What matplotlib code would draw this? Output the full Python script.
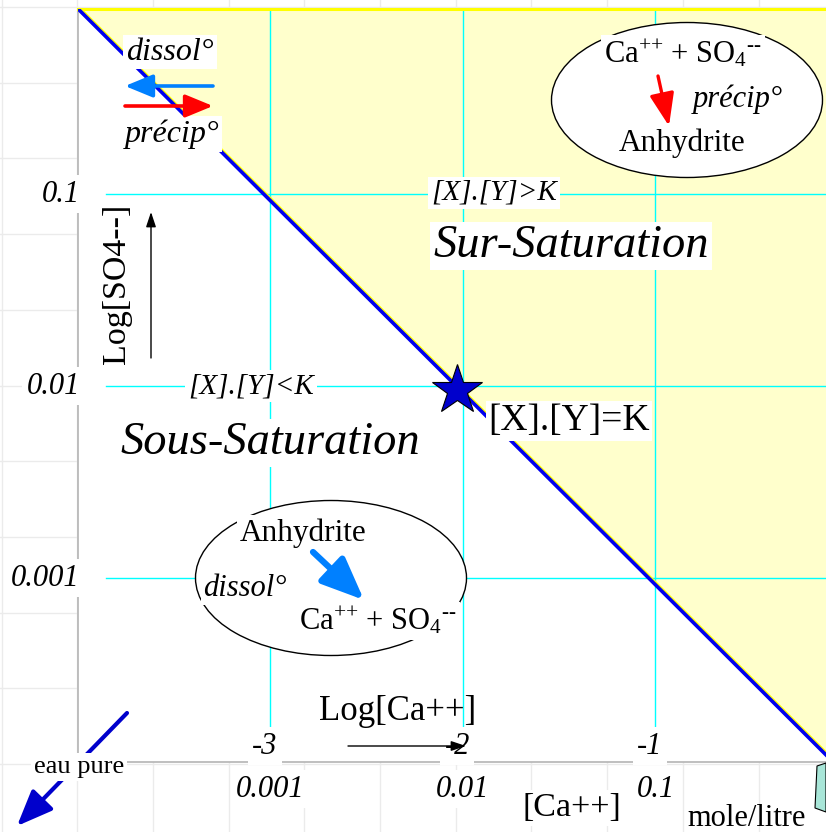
import numpy as np
import matplotlib
matplotlib.use("Agg")
import matplotlib.pyplot as plt
from matplotlib import transforms
from matplotlib.patches import Ellipse, Polygon

plt.rcParams['font.family'] = ['Liberation Serif', 'DejaVu Serif']
plt.rcParams['mathtext.fontset'] = 'custom'
plt.rcParams['mathtext.rm'] = 'Liberation Serif'
plt.rcParams['mathtext.it'] = 'Liberation Serif:italic'

# donnees
log_ticks = [-3, -2, -1]                 # log des concentrations
conc_labels = ['0.001', '0.01', '0.1']   # concentrations mole/litre
log_K = -4.035                           # log[Ca++] + log[SO4--] sur la droite
star_pt = (-2.03, -2.02)                 # point [X].[Y]=K
xlim = (-4.0, -0.114)
ylim = (-3.958, -0.036)

W, H = 826, 832
fig = plt.figure(figsize=(W / 100, H / 100), dpi=100)
# coordonnees en pixels depuis le coin haut gauche
px = transforms.Affine2D().scale(1 / W, -1 / H).translate(0, 1) + fig.transFigure

# quadrillage gris du fond
for k in range(12):
    fig.add_artist(plt.Line2D([1.5 + 75.7 * k] * 2, [0, H], transform=px,
                              color='#ebebeb', lw=1, zorder=0))
    fig.add_artist(plt.Line2D([0, W], [7 + 75.7 * k] * 2, transform=px,
                              color='#ebebeb', lw=1, zorder=0))

ax = fig.add_axes([78 / W, (H - 762) / H, (W - 78) / W, (762 - 9) / H])
ax.set_xlim(*xlim)
ax.set_ylim(*ylim)
ax.set_xticks([])
ax.set_yticks([])
ax.spines['right'].set_visible(False)
ax.spines['left'].set_color('#b4b4b4')
ax.spines['bottom'].set_color('#b4b4b4')
ax.spines['left'].set_linewidth(1.2)
ax.spines['bottom'].set_linewidth(1.2)
ax.spines['top'].set_color('#ffff00')
ax.spines['top'].set_linewidth(2.2)

# zone sur-saturee
xs = np.linspace(xlim[0], xlim[1], 200)
ax.fill_between(xs, log_K - xs, ylim[1], color='#ffffcc', zorder=1, lw=0)

# grille cyan
for t in log_ticks:
    ax.plot([t, t], ylim, color='#00ffff', lw=1, zorder=2)
    ax.plot([-3.855, xlim[1]], [t, t], color='#00ffff', lw=1, zorder=2)

# droite du produit de solubilite
ax.plot(xs + 0.006, log_K - xs + 0.006, color='#ffff00', lw=2, zorder=3)
ax.plot(xs, log_K - xs, color='#0000ee', lw=2.6, zorder=3)
ax.plot(*star_pt, marker='*', ms=38, color='#0000cc', mec='black', mew=0.8, zorder=5)

white = dict(facecolor='white', edgecolor='none', pad=2)

def txt(x, y, s, size, style='normal', box=True, **kw):
    ax.text(x, y, s, transform=px, fontsize=size, style=style, ha=kw.pop('ha', 'center'),
            va=kw.pop('va', 'center'), bbox=white if box else None, zorder=7,
            clip_on=False, **kw)

def arrow(tail, head, color, lw, hl, hw, z=6):
    ax.annotate('', xy=head, xytext=tail, xycoords=px, textcoords=px,
                arrowprops=dict(arrowstyle='-|>,head_length=%g,head_width=%g' % (hl, hw),
                                color=color, lw=lw, mutation_scale=10,
                                shrinkA=0, shrinkB=0), zorder=z, annotation_clip=False)

ions = r'Ca$^{\text{++}}$ + SO$_4$$^{\text{--}}$'

# etiquettes des axes
for t, c in zip(log_ticks, conc_labels):
    ax.text(-3.99, t, c, fontsize=22, style='italic', ha='right', va='center',
            bbox=dict(facecolor='white', edgecolor='none', pad=3), zorder=7, clip_on=False)
    ax.text(t - 0.03, -3.875, str(t), fontsize=22, style='italic', ha='center', va='center',
            bbox=dict(facecolor='white', edgecolor='none', pad=3), zorder=7, clip_on=False)
    ax.text(t, -4.1, c, fontsize=22, style='italic', ha='center', va='center',
            bbox=dict(facecolor='white', edgecolor='none', pad=3), zorder=7, clip_on=False)

txt(398, 711, 'Log[Ca++]', 25, box=False)
arrow((348, 746), (466, 746), 'black', 1, 0.9, 0.3, z=8)
txt(572, 808, '[Ca++]', 24.5)
txt(747, 818, 'mole/litre', 22, box=False)
txt(117, 284, 'Log[SO4--]', 24.5, rotation=90, box=False)
arrow((151, 358), (151, 212), 'black', 1, 0.9, 0.3, z=8)

# fleches en haut a gauche
txt(170, 52, 'dissol°', 23, 'italic')
arrow((213, 86), (125, 86), '#0080ff', 2.6, 1.7, 0.7, z=8)
arrow((125, 106), (213, 106), '#ff0000', 2.6, 1.7, 0.7, z=8)
txt(172, 134, 'précip°', 23, 'italic')

# zones
txt(494, 193, '[X].[Y]>K', 21, 'italic')
txt(571, 246, 'Sur-Saturation', 33.5, 'italic')
txt(251, 386, '[X].[Y]<K', 21, 'italic')
txt(270, 443, 'Sous-Saturation', 33.5, 'italic')
txt(569, 421, '[X].[Y]=K', 27)

# ellipse precipitation
ax.add_patch(Ellipse((687, 100), 271, 155, transform=px, facecolor='white',
                     edgecolor='black', lw=1, zorder=4))
txt(683, 54, ions, 22)
arrow((658, 76), (669, 126), '#ff0000', 2.4, 2.0, 0.75, z=8)
txt(738, 99, 'précip°', 22, 'italic', box=False)
txt(682, 143, 'Anhydrite', 22.5, box=False)

# ellipse dissolution
ax.add_patch(Ellipse((331, 578), 271, 155, transform=px, facecolor='white',
                     edgecolor='black', lw=1, zorder=4, clip_on=False))
txt(303, 533, 'Anhydrite', 22.5)
arrow((313, 552), (364, 600), '#0080ff', 4.5, 2.6, 1.1, z=8)
txt(245, 588, 'dissol°', 22, 'italic')
txt(378, 621, ions, 22)

# eau pure
arrow((127, 713), (17, 826), '#0000cc', 3, 2.2, 0.9)
txt(79, 767, 'eau pure', 19)

# petit dessin en bas a droite
fig.add_artist(Polygon([(817, 766), (826, 763), (826, 812), (815, 808)], closed=True,
                       transform=px, facecolor='#a8e6d8', edgecolor='black', lw=0.8, zorder=8))

fig.savefig('out.png', dpi=100)
